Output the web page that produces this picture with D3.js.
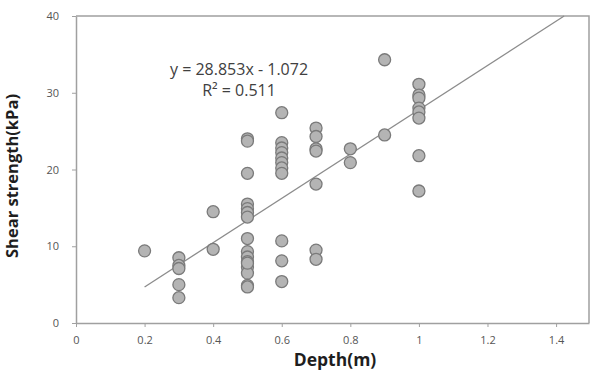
<!DOCTYPE html>
<html>
<head>
<meta charset="utf-8">
<script src="https://cdn.jsdelivr.net/npm/d3@7"></script>
<style>
  body { margin: 0; background: #fff; }
  text { font-family: "Open Sans", "Noto Sans", sans-serif; }
</style>
</head>
<body>
<script>
// depth (m) and shear strength (kPa)
const depth = [
  0.2,
  0.3, 0.3, 0.3, 0.3, 0.3,
  0.4, 0.4,
  0.5, 0.5, 0.5, 0.5, 0.5, 0.5, 0.5, 0.5, 0.5, 0.5, 0.5, 0.5, 0.5, 0.5, 0.5, 0.5,
  0.6, 0.6, 0.6, 0.6, 0.6, 0.6, 0.6, 0.6, 0.6, 0.6, 0.6,
  0.7, 0.7, 0.7, 0.7, 0.7, 0.7, 0.7,
  0.8, 0.8,
  0.9, 0.9,
  1, 1, 1, 1, 1, 1, 1, 1
];
const strength = [
  9.4,
  8.5, 7.5, 7.1, 5.0, 3.3,
  14.5, 9.6,
  24.0, 23.7, 19.5, 15.5, 14.9, 14.4, 13.8, 11.0, 9.3, 8.6, 8.0, 7.3, 6.5, 4.9, 4.7, 7.8,
  27.4, 23.5, 22.8, 22.2, 21.5, 20.9, 20.2, 19.5, 10.7, 8.1, 5.4,
  25.4, 24.3, 22.7, 22.4, 18.1, 9.5, 8.3,
  22.7, 20.9,
  34.3, 24.5,
  31.1, 29.7, 29.3, 28.0, 27.5, 26.7, 21.8, 17.2
];
const xTicks = [0, 0.2, 0.4, 0.6, 0.8, 1, 1.2, 1.4];
const yTicks = [0, 10, 20, 30, 40];
const slope = 28.853, intercept = -1.072;
const eqLines = ["y = 28.853x - 1.072", "R² = 0.511"];

const W = 593, H = 372;
const svg = d3.select("body").append("svg").attr("width", W).attr("height", H);

const pLeft = 76, pRight = 589, pTop = 16, pBottom = 323;
const x = d3.scaleLinear().domain([0, 1.496]).range([pLeft, pRight]);
const y = d3.scaleLinear().domain([0, 40]).range([pBottom, pTop]);

// plot frame (top and right)
svg.append("path")
  .attr("d", `M${pLeft},${pTop}H${pRight}V${pBottom}`)
  .attr("fill", "none").attr("stroke", "#a0a0a0").attr("stroke-width", 1.5);

const xAxis = svg.append("g").attr("transform", `translate(0,${pBottom})`)
  .call(d3.axisBottom(x).tickValues(xTicks).tickSize(4).tickSizeOuter(0).tickFormat(d3.format("")));
const yAxis = svg.append("g").attr("transform", `translate(${pLeft},0)`)
  .call(d3.axisLeft(y).tickValues(yTicks).tickSize(4).tickSizeOuter(0));
[xAxis, yAxis].forEach(g => {
  g.select(".domain").attr("stroke", "#a0a0a0").attr("stroke-width", 1.5);
  g.selectAll(".tick line").attr("stroke", "#a0a0a0");
  g.selectAll(".tick text").attr("fill", "#555").style("font-size", "11px")
    .style("font-family", "'Open Sans', sans-serif");
});
xAxis.selectAll(".tick text").attr("dy", "1.3em");
yAxis.selectAll(".tick text").attr("x", -17);

// trendline, clipped at the top of the plot
const xEnd = (40 - intercept) / slope;
svg.append("line")
  .attr("x1", x(0.2)).attr("y1", y(slope * 0.2 + intercept))
  .attr("x2", x(xEnd)).attr("y2", y(40))
  .attr("stroke", "#8c8c8c").attr("stroke-width", 1.3);

// points
svg.selectAll("circle.pt")
  .data(depth.map((d, i) => [d, strength[i]]))
  .enter().append("circle")
  .attr("class", "pt")
  .attr("cx", d => x(d[0]))
  .attr("cy", d => y(d[1]))
  .attr("r", 6)
  .attr("fill", "#b4b4b4")
  .attr("stroke", "#7a7a7a")
  .attr("stroke-width", 1.3);

// equation
svg.selectAll("text.eq")
  .data(eqLines)
  .enter().append("text")
  .attr("class", "eq")
  .attr("x", 239)
  .attr("y", (d, i) => 75 + i * 21)
  .attr("text-anchor", "middle")
  .attr("fill", "#404040")
  .style("font-size", "16px")
  .text(d => d);

// axis titles
svg.append("text")
  .attr("x", 335).attr("y", 366)
  .attr("text-anchor", "middle")
  .attr("font-weight", "bold").attr("fill", "#1e1e1e")
  .style("font-size", "17.5px")
  .text("Depth(m)");

svg.append("text")
  .attr("transform", "translate(17.5,176) rotate(-90)")
  .attr("text-anchor", "middle")
  .attr("font-weight", "bold").attr("fill", "#1e1e1e")
  .style("font-size", "16.5px")
  .text("Shear strength(kPa)");
</script>
</body>
</html>
